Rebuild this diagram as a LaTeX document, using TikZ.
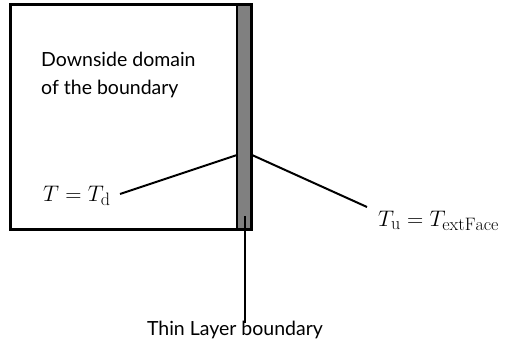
\RequirePackage{fix-cm}
\documentclass[tikz,border=0pt]{standalone}
\usepackage{fontspec}
\setsansfont{Lato}
\DeclareMathSizes{22.5}{22.5}{18}{14}
\begin{document}
\begin{tikzpicture}[x=1pt,y=-1pt,
  lbl/.style={font=\sffamily\fontsize{19.5}{25}\selectfont, inner sep=0pt},
  mth/.style={font=\fontsize{22.5}{26}\selectfont, inner sep=0pt},
  conn/.style={line width=2pt}]
\useasboundingbox (0,0) rectangle (517,342);
\node[draw, line width=3pt, inner sep=0pt, outer sep=0pt, minimum width=241pt, minimum height=225pt] (box) at (131,117) {};
\node[draw, fill=black!50, line width=2.5pt, inner sep=0pt, outer sep=0pt, minimum width=14.5pt, minimum height=225pt] (strip) at (244.25,117) {};
\node[lbl, anchor=base west] (dom1) at (41,67) {Downside domain};
\node[lbl, anchor=base west] (dom2) at (41,95) {of the boundary};
\node[mth, anchor=base west] (td) at (43,201) {$T = T_{\mathrm{d}}$};
\node[mth, anchor=base west] (tu) at (378,226) {$T_{\mathrm{u}} = T_{\mathrm{extFace}}$};
\node[lbl, anchor=base] (thin) at (235,335) {Thin Layer boundary};
\coordinate (pL) at (237,155);
\coordinate (pR) at (252,155);
\coordinate (pB) at (244.5,216);
\coordinate (tuEnd) at (367,207);
\coordinate (tdEnd) at (120,194);
\coordinate (thinTop) at (244.5,323);
\draw[conn] (tdEnd) -- (pL);
\draw[conn] (pR) -- (tuEnd);
\draw[conn] (pB) -- (thinTop);
\end{tikzpicture}
\end{document}
